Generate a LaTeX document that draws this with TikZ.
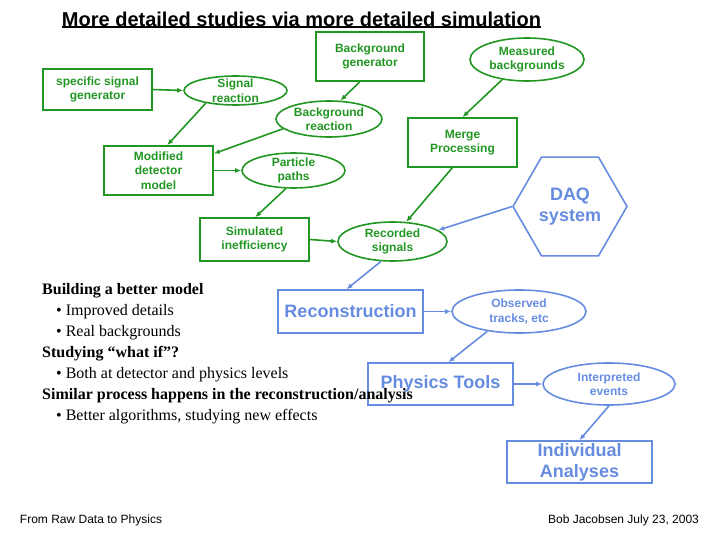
\documentclass[tikz,border=0pt]{standalone}
\usepackage{fontspec}
\setmainfont{Liberation Serif}
\setsansfont{Liberation Sans}
\usepackage{tikz}
\usetikzlibrary{
  arrows.meta,
  positioning,
  shapes.geometric
}
\definecolor{SimGreen}{RGB}{34,150,34}
\definecolor{RecoBlue}{RGB}{102,140,224}
\tikzset{
  simbox/.style={
    draw=SimGreen,
    line width=1.6pt,
    text=SimGreen,
    align=center,
    font=\sffamily\bfseries\fontsize{12}{14.5}\selectfont,
    inner sep=0pt
  },
  simoval/.style={simbox,ellipse,inner ysep=-3pt},
  recobox/.style={simbox,draw=RecoBlue,text=RecoBlue,font=\sffamily\bfseries\fontsize{18}{21}\selectfont},
  recooval/.style={simoval,draw=RecoBlue,text=RecoBlue},
  daqhex/.style={recobox,regular polygon,regular polygon sides=6,minimum size=114pt},
  simarrow/.style={-{Latex[length=6pt,width=5pt]},line width=1.6pt,draw=SimGreen},
  recoarrow/.style={simarrow,draw=RecoBlue},
  notes/.style={align=left,anchor=north west,inner sep=0pt,font=\fontsize{16}{21}\selectfont},
  footer/.style={font=\sffamily\fontsize{12}{14}\selectfont,inner sep=0pt}
}

\begin{document}
\begin{tikzpicture}[x=1pt,y=-1pt]
  \useasboundingbox (0,0) rectangle (720,540);
  \node[font=\sffamily\bfseries\fontsize{20}{24}\selectfont, inner sep=0pt, anchor=base] (title) at (301.5,27) {More detailed studies via more detailed simulation};
  \draw[line width=1.8pt, yshift=-2.5pt] (title.south west) -- (title.south east);

  % Simulation chain (green)
  \node[simbox, minimum width=109pt, minimum height=41pt] (specgen) at (97.5,89.5) {specific signal\\generator};
  \node[simoval, minimum width=103pt, minimum height=29pt] (sigreact) at (235.5,90.5) {Signal\\reaction};
  \node[simbox, minimum width=108pt, minimum height=49pt] (bkggen) at (370,56.5) {Background\\generator};
  \node[simoval, minimum width=114pt, minimum height=43pt] (measbkg) at (527,59.5) {Measured\\backgrounds};
  \node[simoval, minimum width=106pt, minimum height=36pt] (bkgreact) at (329,119) {Background\\reaction};
  \node[simbox, minimum width=109pt, minimum height=49pt] (merge) at (462.5,142.5) {Merge\\Processing};
  \node[simbox, minimum width=109pt, minimum height=49pt] (moddet) at (158.5,170.5) {Modified\\detector\\model};
  \node[simoval, minimum width=103pt, minimum height=35pt] (partpath) at (293.5,170.5) {Particle\\paths};
  \node[simbox, minimum width=109pt, minimum height=43pt] (siminef) at (254.5,239.5) {Simulated\\inefficiency};
  \node[simoval, minimum width=109pt, minimum height=39pt] (recsig) at (392.5,241.5) {Recorded\\signals};

  % Data chain (blue)
  \node[daqhex] (daq) at (570,206.5) {DAQ\\system};
  \node[recobox, minimum width=145pt, minimum height=43pt] (reco) at (350.5,311.5) {Reconstruction};
  \node[recooval, minimum width=134pt, minimum height=43pt] (obstrk) at (519,311.5) {Observed\\tracks, etc};
  \node[recobox, minimum width=145pt, minimum height=42pt] (phystools) at (440.5,384) {Physics Tools};
  \node[recooval, minimum width=132pt, minimum height=42pt] (interp) at (609,384) {Interpreted\\events};
  \node[recobox, minimum width=145pt, minimum height=42pt] (indiv) at (579.5,462) {Individual\\Analyses};

  \draw[simarrow] (specgen.east) -- (sigreact.west);
  \draw[simarrow] (sigreact.203) -- (moddet.71);
  \draw[simarrow] (bkggen.248) -- (bkgreact.58);
  \draw[simarrow] (bkgreact.192) -- (moddet.17);
  \draw[simarrow] (measbkg.219) -- (merge.north);
  \draw[simarrow] (moddet.east) -- (partpath.west);
  \draw[simarrow] (partpath.247) -- (siminef.88);
  \draw[simarrow] (siminef.east) -- (recsig.west);
  \draw[simarrow] (merge.248) -- (recsig.55);

  \draw[recoarrow] (daq.west) -- (recsig.14);
  \draw[recoarrow] (recsig.240) -- (reco.100);
  \draw[recoarrow] (reco.east) -- (obstrk.west);
  \draw[recoarrow] (obstrk.212) -- (phystools.70);
  \draw[recoarrow] (phystools.east) -- (interp.west);
  \draw[recoarrow] (interp.south) -- (indiv.north);

  % Remarks over the lower left
  \node[notes] (remarks) at (42,283) {\textbf{Building a better model}\\
    \hspace*{14pt}• Improved details\\
    \hspace*{14pt}• Real backgrounds\\
    \textbf{Studying “what if”?}\\
    \hspace*{14pt}• Both at detector and physics levels\\
    \textbf{Similar process happens in the reconstruction/analysis}\\
    \hspace*{14pt}• Better algorithms, studying new effects};

  \node[footer] (source) at (91,520) {From Raw Data to Physics};
  \node[footer] (author) at (623.5,520) {Bob Jacobsen July 23, 2003};
\end{tikzpicture}
\end{document}
